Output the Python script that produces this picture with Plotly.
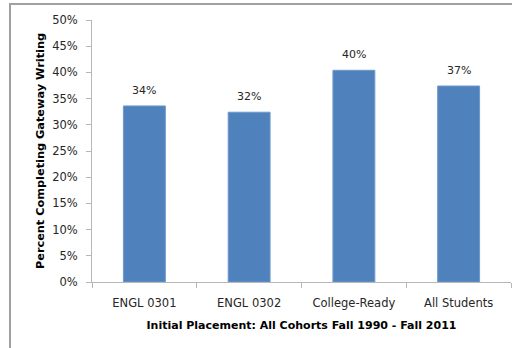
import plotly.graph_objects as go

# Share of students completing gateway writing, by initial placement
placements = ["ENGL 0301", "ENGL 0302", "College-Ready", "All Students"]
completion = [0.336, 0.324, 0.404, 0.374]
y_ticks = [0.0, 0.05, 0.10, 0.15, 0.20, 0.25, 0.30, 0.35, 0.40, 0.45, 0.50]

FONT = "DejaVu Sans"
TEXT = "#262626"
AXIS = "#b7b7b7"

fig = go.Figure(
    go.Bar(
        x=placements,
        y=completion,
        width=0.4,
        marker=dict(color="#4f81bd", line=dict(color="#6f98cc", width=1)),
        hoverinfo="skip",
    )
)

# value labels above each bar
for cat, val in zip(placements, completion):
    fig.add_annotation(
        x=cat, y=val, text=f"{val:.0%}", showarrow=False,
        yanchor="bottom", yshift=7,
        font=dict(family=FONT, size=11, color=TEXT),
    )

# chart frame
fig.add_shape(
    type="rect", xref="paper", yref="paper",
    x0=-0.1957, x1=1.3, y0=-0.5, y1=1.061,
    line=dict(color="#a0a0a0", width=2), fillcolor="rgba(0,0,0,0)",
    layer="below",
)

fig.update_layout(
    width=512, height=348,
    margin=dict(l=92, r=1, t=20, b=66),
    paper_bgcolor="white", plot_bgcolor="white",
    showlegend=False,
    font=dict(family=FONT, size=11, color=TEXT),
    xaxis=dict(
        type="category",
        showline=True, linecolor=AXIS, linewidth=1,
        ticks="outside", tickson="boundaries", ticklen=5, tickcolor=AXIS,
        showgrid=False,
        ticklabelstandoff=10,
        tickfont=dict(family=FONT, size=11.5, color=TEXT),
        title=dict(
            text="<b>Initial Placement: All Cohorts Fall 1990 - Fall 2011</b>",
            font=dict(family=FONT, size=11, color="#000000"),
            standoff=12,
        ),
    ),
    yaxis=dict(
        range=[0, 0.5],
        tickvals=y_ticks,
        tickformat=".0%",
        showline=True, linecolor=AXIS, linewidth=1,
        ticks="outside", ticklen=5, tickcolor=AXIS,
        showgrid=False, zeroline=False,
        ticklabelstandoff=6,
        tickfont=dict(family=FONT, size=11.5, color=TEXT),
        title=dict(
            text="<b>Percent Completing Gateway Writing</b>",
            font=dict(family=FONT, size=11.3, color="#000000"),
            standoff=5,
        ),
    ),
)

fig.write_html("out.html")
